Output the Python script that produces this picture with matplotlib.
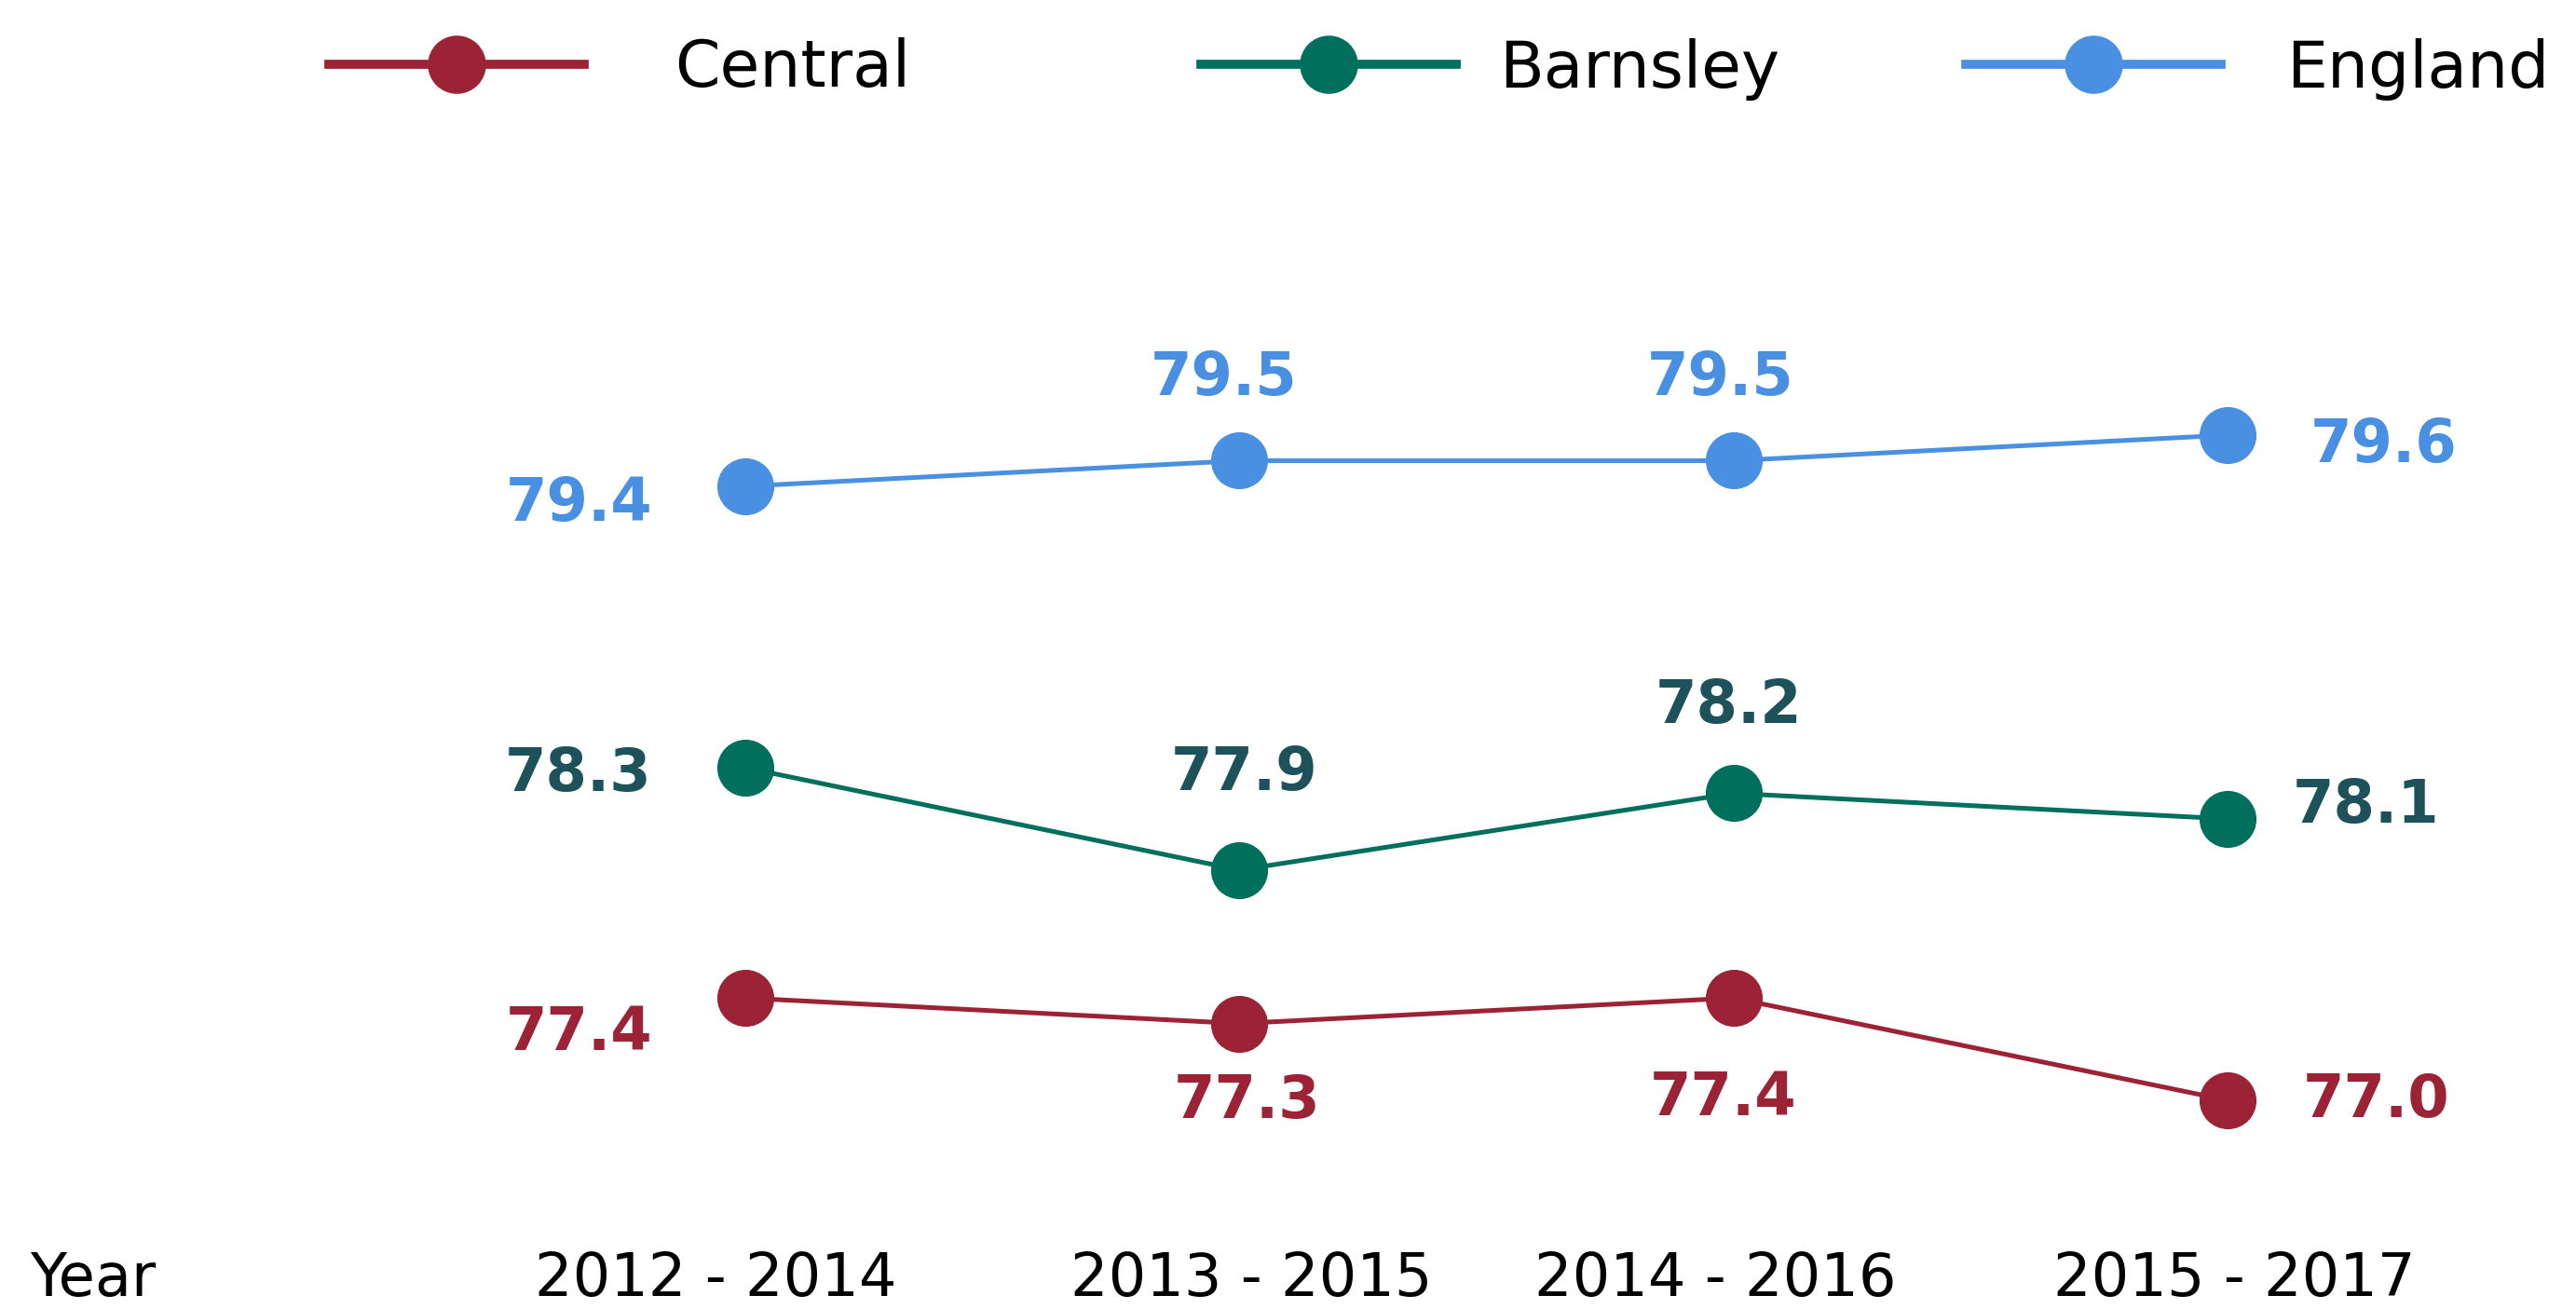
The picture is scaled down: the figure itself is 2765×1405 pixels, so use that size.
import matplotlib
matplotlib.use("Agg")
import matplotlib.pyplot as plt
import matplotlib.transforms as mtransforms
from matplotlib.lines import Line2D

plt.rcParams['font.family'] = ['DejaVu Sans']

# data
periods = ["2012 - 2014", "2013 - 2015", "2014 - 2016", "2015 - 2017"]
central = [77.4, 77.3, 77.4, 77.0]
barnsley = [78.3, 77.9, 78.2, 78.1]
england = [79.4, 79.5, 79.5, 79.6]

c_central = "#9B2335"
c_barnsley = "#00705C"
c_barnsley_lbl = "#1E525A"
c_england = "#4A90E2"

# label offsets in points (dx, dy, ha) for each point
off_central = [(-72, -27, "right"), (6, -60, "center"), (-8, -78, "center"), (58, 0, "left")]
off_barnsley = [(-72, -5, "right"), (4, 75, "center"), (-4, 67, "center"), (50, 10, "left")]
off_england = [(-72, -14, "right"), (-12, 64, "center"), (-10, 64, "center"), (64, -8, "left")]

W, H = 2765, 1405
fig = plt.figure(figsize=(W / 100, H / 100), dpi=100)
ax_top_px, ax_bot_px = 150, 1300
ax = fig.add_axes([0, (H - ax_bot_px) / H, 1, (ax_bot_px - ax_top_px) / H])

x = list(range(len(periods)))
series = [
    (central, c_central, c_central, off_central, "Central"),
    (barnsley, c_barnsley, c_barnsley_lbl, off_barnsley, "Barnsley"),
    (england, c_england, c_england, off_england, "England"),
]
for vals, col, lcol, offs, name in series:
    ax.plot(x, vals, color=col, lw=3.6, marker="o", markersize=43, zorder=3)
    for xi, v, (dx, dy, ha) in zip(x, vals, offs):
        ax.annotate(f"{v:.1f}", (xi, v), xytext=(dx, dy), textcoords="offset points",
                    ha=ha, va="center", fontsize=46, fontweight="bold", color=lcol)

# map x=0 -> 800px, x=3 -> 2391px
ppu = (2391 - 800) / 3
ax.set_xlim(-800 / ppu, (W - 800) / ppu)
ppy = 274.6
ax.set_ylim(77.0 - (ax_bot_px - 1181) / ppy, 79.6 + (467 - ax_top_px) / ppy)

pad = 30
ax.set_xticks(x)
ax.set_xticklabels(periods, fontsize=46)
ax.tick_params(axis="x", length=0, pad=pad)
tick_dx = [-23, 9, -14, 5]
for lbl, dx in zip(ax.get_xticklabels(), tick_dx):
    lbl.set_transform(lbl.get_transform() + mtransforms.ScaledTranslation(dx / 72, 0, fig.dpi_scale_trans))
ax.set_yticks([])
for s in ax.spines.values():
    s.set_visible(False)
ax.annotate("Year", xy=(32 / W, 0), xycoords=("figure fraction", "axes fraction"),
            xytext=(0, -pad), textcoords="offset points", ha="left", va="top", fontsize=46)

# legend, one entry per block
leg_x = [353, 1289, 2110]
leg_pad = [1.4, 0.66, 1.0]
for (vals, col, lcol, offs, name), lx, tp in zip(series, leg_x, leg_pad):
    h = Line2D([], [], color=col, lw=7, marker="o", markersize=44)
    fig.legend([h], [name], loc="center left", bbox_to_anchor=(lx / W, 1 - 74 / H),
               frameon=False, fontsize=50, handlelength=3.95, handletextpad=tp,
               borderpad=0, borderaxespad=0)

fig.savefig("out.png", dpi=100)
